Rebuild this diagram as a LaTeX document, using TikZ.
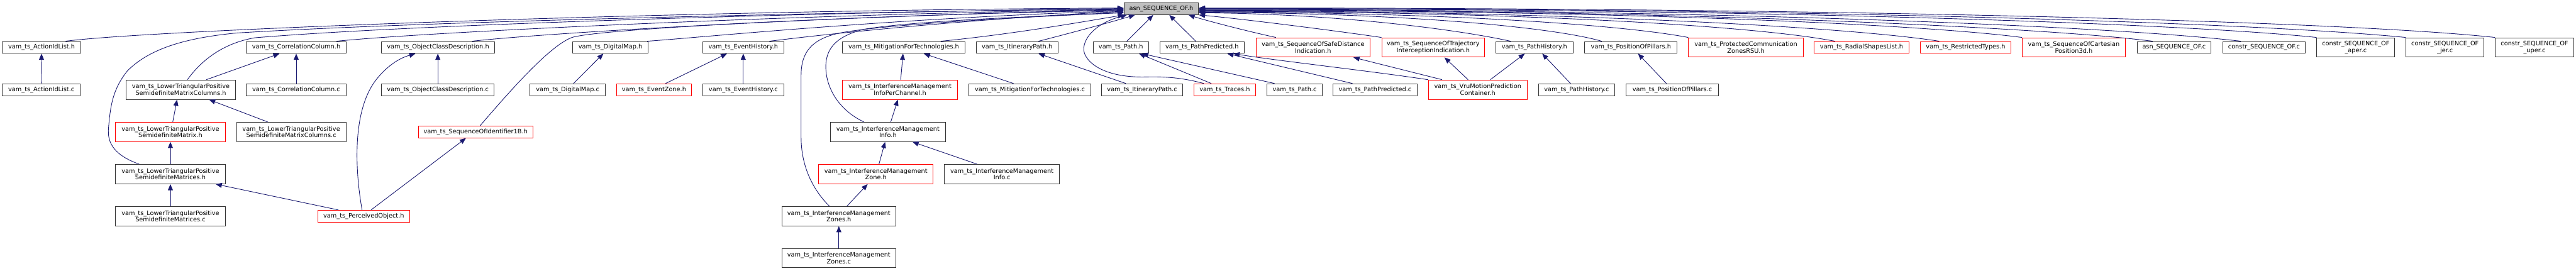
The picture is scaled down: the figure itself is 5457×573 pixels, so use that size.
\documentclass[tikz,border=0pt]{standalone}
\usepackage{fontspec}
\usetikzlibrary{arrows.meta}
\newfontfamily\dvfont{DejaVu Sans}
\definecolor{edgeblue}{HTML}{191970}
\definecolor{nodeblk}{HTML}{333333}
\definecolor{nodered}{HTML}{FF0000}
\definecolor{rootgray}{HTML}{BFBFBF}
\tikzset{
  fbox/.style={draw=nodeblk, line width=1.3pt, inner sep=0pt, minimum height=25pt, align=center, font=\dvfont\fontsize{13}{14}\selectfont, fill=white},
  rbox/.style={fbox, draw=nodered},
  rootbox/.style={fbox, fill=rootgray},
  two/.style={minimum height=41pt},
  bw/.style={minimum width=#1pt},
  dep/.style={draw=edgeblue, line width=1.2pt, -{Triangle[length=13pt,width=10.5pt]}}
}
\begin{document}
\begin{tikzpicture}[x=1pt,y=-1pt]
\useasboundingbox (0,0) rectangle (5457,573);
\fill[white] (0,0) rectangle (5457,573);
% ---------- nodes ----------
\node[rootbox,bw=158] (root) at (2460,18.5) {asn\_SEQUENCE\_OF.h};
\node[fbox,bw=166] (ail) at (88,100.5) {vam\_ts\_ActionIdList.h};
\node[fbox,bw=165] (ailc) at (87.5,190) {vam\_ts\_ActionIdList.c};
\node[fbox,two,bw=232] (lcolh) at (383,190) {vam\_ts\_LowerTriangularPositive\\SemidefiniteMatrixColumns.h};
\node[rbox,two,bw=232] (lmath) at (361,279.5) {vam\_ts\_LowerTriangularPositive\\SemidefiniteMatrix.h};
\node[fbox,two,bw=232] (lmsh) at (361,369) {vam\_ts\_LowerTriangularPositive\\SemidefiniteMatrices.h};
\node[fbox,two,bw=232] (lmsc) at (361,458) {vam\_ts\_LowerTriangularPositive\\SemidefiniteMatrices.c};
\node[fbox,two,bw=232] (lcolc) at (617,279.5) {vam\_ts\_LowerTriangularPositive\\SemidefiniteMatrixColumns.c};
\node[fbox,bw=211] (corh) at (627.5,100.5) {vam\_ts\_CorrelationColumn.h};
\node[fbox,bw=211] (corc) at (627.5,190) {vam\_ts\_CorrelationColumn.c};
\node[fbox,bw=240] (objh) at (928,100.5) {vam\_ts\_ObjectClassDescription.h};
\node[fbox,bw=239] (objc) at (927.5,190) {vam\_ts\_ObjectClassDescription.c};
\node[rbox,bw=195] (perc) at (770.5,458) {vam\_ts\_PerceivedObject.h};
\node[rbox,bw=243] (sid) at (1007.5,279.5) {vam\_ts\_SequenceOfIdentifier1B.h};
\node[fbox,bw=160] (dmh) at (1293,100.5) {vam\_ts\_DigitalMap.h};
\node[fbox,bw=159] (dmc) at (1202.5,190) {vam\_ts\_DigitalMap.c};
\node[rbox,bw=159] (ezh) at (1385.5,190) {vam\_ts\_EventZone.h};
\node[fbox,bw=171] (ehh) at (1574.5,100.5) {vam\_ts\_EventHistory.h};
\node[fbox,bw=171] (ehc) at (1574.5,190) {vam\_ts\_EventHistory.c};
\node[fbox,bw=259] (mith) at (1914.5,100.5) {vam\_ts\_MitigationForTechnologies.h};
\node[rbox,two,bw=243] (ipc) at (1906.5,190) {vam\_ts\_InterferenceManagement\\InfoPerChannel.h};
\node[fbox,two,bw=244] (imih) at (1881,279.5) {vam\_ts\_InterferenceManagement\\Info.h};
\node[rbox,two,bw=243] (imzh) at (1855.5,369) {vam\_ts\_InterferenceManagement\\Zone.h};
\node[fbox,two,bw=243] (imic) at (2122.5,369) {vam\_ts\_InterferenceManagement\\Info.c};
\node[fbox,two,bw=242] (imzsh) at (1777,458) {vam\_ts\_InterferenceManagement\\Zones.h};
\node[fbox,two,bw=242] (imzsc) at (1777,547) {vam\_ts\_InterferenceManagement\\Zones.c};
\node[fbox,bw=259] (mitc) at (2181.5,190) {vam\_ts\_MitigationForTechnologies.c};
\node[fbox,bw=173] (ith) at (2154.5,100.5) {vam\_ts\_ItineraryPath.h};
\node[fbox,bw=171] (itc) at (2419.5,190) {vam\_ts\_ItineraryPath.c};
\node[fbox,bw=117] (pth) at (2374.5,100.5) {vam\_ts\_Path.h};
\node[fbox,bw=117] (ptc) at (2742.5,190) {vam\_ts\_Path.c};
\node[rbox,bw=131] (trh) at (2594.5,190) {vam\_ts\_Traces.h};
\node[fbox,bw=179] (pph) at (2546.5,100.5) {vam\_ts\_PathPredicted.h};
\node[fbox,bw=178] (ppc) at (2913,190) {vam\_ts\_PathPredicted.c};
\node[rbox,two,bw=241] (ssd) at (2781.5,100.5) {vam\_ts\_SequenceOfSafeDistance\\Indication.h};
\node[rbox,two,bw=218] (sti) at (3036,100.5) {vam\_ts\_SequenceOfTrajectory\\InterceptionIndication.h};
\node[rbox,two,bw=209] (vru) at (3130.5,190) {vam\_ts\_VruMotionPrediction\\Container.h};
\node[fbox,bw=163] (phh) at (3250.5,100.5) {vam\_ts\_PathHistory.h};
\node[fbox,bw=162] (phc) at (3340,190) {vam\_ts\_PathHistory.c};
\node[fbox,bw=196] (poph) at (3455,100.5) {vam\_ts\_PositionOfPillars.h};
\node[fbox,bw=195] (popc) at (3542.5,190) {vam\_ts\_PositionOfPillars.c};
\node[rbox,two,bw=243] (pcz) at (3698.5,100.5) {vam\_ts\_ProtectedCommunication\\ZonesRSU.h};
\node[rbox,bw=201] (rsl) at (3943.5,100.5) {vam\_ts\_RadialShapesList.h};
\node[rbox,bw=192] (rty) at (4164,100.5) {vam\_ts\_RestrictedTypes.h};
\node[rbox,two,bw=218] (cart) at (4393,100.5) {vam\_ts\_SequenceOfCartesian\\Position3d.h};
\node[fbox,bw=157] (asnc) at (4605.5,100.5) {asn\_SEQUENCE\_OF.c};
\node[fbox,bw=174] (csc) at (4796,100.5) {constr\_SEQUENCE\_OF.c};
\node[fbox,two,bw=165] (cap) at (4990.5,100.5) {constr\_SEQUENCE\_OF\\\_aper.c};
\node[fbox,two,bw=165] (cjer) at (5179.5,100.5) {constr\_SEQUENCE\_OF\\\_jer.c};
\node[fbox,two,bw=166] (cuper) at (5369,100.5) {constr\_SEQUENCE\_OF\\\_uper.c};
% ---------- edges to root from the left ----------
\draw[dep] ([xshift=51pt]ail.north) .. controls (300,65) and (1400,22) .. ([yshift=1.5pt]root.west);
\draw[dep] ([xshift=14pt]lcolh.north) .. controls (425,130) and (470,92) .. (540,80) .. controls (900,50) and (1800,25) .. ([yshift=0.5pt]root.west);
\draw[dep] ([xshift=-66pt]lmsh.north) .. controls (245,330) and (226,305) .. (230,270) .. controls (234,225) and (238,190) .. (270,150) .. controls (320,100) and (400,80) .. (500,70) .. controls (900,45) and (1800,25) .. ([yshift=-0.5pt]root.west);
\draw[dep] ([xshift=85.5pt]corh.north) .. controls (900,68) and (1700,30) .. ([yshift=-1.5pt]root.west);
\draw[dep] ([xshift=72pt]objh.north) .. controls (1150,70) and (1800,32) .. ([yshift=-2.5pt]root.west);
\draw[dep] ([xshift=9.5pt]sid.north) .. controls (1070,205) and (1160,100) .. (1210,80) .. controls (1260,60) and (1900,30) .. ([yshift=-3.5pt]root.west);
\draw[dep] ([xshift=78pt]dmh.north) .. controls (1500,78) and (1900,38) .. ([yshift=-4.5pt]root.west);
\draw[dep] ([xshift=55.5pt]ehh.north) .. controls (1800,66) and (2100,38) .. ([yshift=-5.5pt]root.west);
\draw[dep] ([xshift=-20pt]imzsh.north) .. controls (1720,400) and (1697,350) .. (1697,290) -- (1697,160) .. controls (1697,110) and (1720,85) .. (1770,72) .. controls (1850,52) and (2200,35) .. ([yshift=-7.5pt]root.west);
\draw[dep] ([xshift=-51pt]imih.north) .. controls (1770,230) and (1745,175) .. (1750,130) .. controls (1755,95) and (1780,75) .. (1830,62) .. controls (1950,42) and (2250,33) .. ([yshift=-8.5pt]root.west);
\draw[dep] ([xshift=78.5pt]mith.north) .. controls (2150,72) and (2300,45) .. ([xshift=1pt]root.south west);
\draw[dep] ([xshift=45.5pt]ith.north) .. controls (2260,72) and (2350,48) .. ([xshift=24pt]root.south west);
\draw[dep] ([xshift=12.5pt]pth.north) -- ([xshift=-17pt]root.south);
\draw[dep] ([xshift=-13.5pt]pph.north) -- ([xshift=17pt]root.south);
\draw[dep] ([xshift=-44.5pt]trh.north) .. controls (2510,166) and (2475,162) .. (2430,163) .. controls (2330,166) and (2292,125) .. (2296,100) .. controls (2300,70) and (2335,45) .. ([xshift=7pt]root.south west);
% ---------- edges to root from the right ----------
\draw[dep] ([xshift=-78.5pt]ssd.north) .. controls (2650,68) and (2560,45) .. ([xshift=-22pt]root.south east);
\draw[dep] (sti.north west) .. controls (2850,68) and (2650,42) .. (root.south east);
\draw[dep] ([xshift=-50.5pt]phh.north) .. controls (3100,65) and (2850,30) .. ([yshift=-8.5pt]root.east);
\draw[dep] ([xshift=-62pt]poph.north) .. controls (3300,60) and (3000,28) .. ([yshift=-7.5pt]root.east);
\draw[dep] (pcz.north west) .. controls (3450,55) and (3100,27) .. ([yshift=-6.5pt]root.east);
\draw[dep] ([xshift=-56.5pt]rsl.north) .. controls (3750,60) and (3300,25) .. ([yshift=-5.5pt]root.east);
\draw[dep] ([xshift=-56pt]rty.north) .. controls (3950,62) and (3400,24) .. ([yshift=-4.5pt]root.east);
\draw[dep] (cart.north west) .. controls (4100,55) and (3500,22) .. ([yshift=-3.5pt]root.east);
\draw[dep] ([xshift=-45.5pt]asnc.north) .. controls (4350,60) and (3600,21) .. ([yshift=-2.5pt]root.east);
\draw[dep] ([xshift=-49pt]csc.north) .. controls (4500,58) and (3700,20) .. ([yshift=-1.5pt]root.east);
\draw[dep] (cap.north west) .. controls (4650,52) and (3800,18) .. ([yshift=-0.5pt]root.east);
\draw[dep] (cjer.north west) .. controls (4800,50) and (3900,17) .. ([yshift=0.5pt]root.east);
\draw[dep] (cuper.north west) .. controls (5000,48) and (4000,16) .. ([yshift=1.5pt]root.east);
% ---------- other edges ----------
\draw[dep] (ailc.north) -- (ail.south);
\draw[dep] (corc.north) -- (corh.south);
\draw[dep] (objc.north) -- (objc.north |- objh.south);
\draw[dep] ([xshift=12.5pt]dmc.north) -- ([xshift=-15pt]dmh.south);
\draw[dep] ([xshift=24.5pt]ezh.north) -- ([xshift=-34.5pt]ehh.south);
\draw[dep] (ehc.north) -- (ehh.south);
\draw[dep] ([xshift=54pt]lcolh.north) -- ([xshift=-35.5pt]corh.south);
\draw[dep] ([xshift=-50pt]lcolc.north) -- ([xshift=60pt]lcolh.south);
\draw[dep] ([xshift=5pt]lmath.north) -- ([xshift=-8pt]lcolh.south);
\draw[dep] (lmsh.north) -- (lmath.south);
\draw[dep] (lmsc.north) -- (lmsh.south);
\draw[dep] ([xshift=-53.5pt]perc.north) -- ([xshift=96pt]lmsh.south);
\draw[dep] ([xshift=-3.5pt]perc.north) .. controls (752,360) and (745,230) .. (800,165) .. controls (825,135) and (850,122) .. ([xshift=-48pt]objh.south);
\draw[dep] ([xshift=15.5pt]perc.north) -- ([xshift=-20.5pt]sid.south);
\draw[dep] ([xshift=-34.5pt]mitc.north) -- ([xshift=42.5pt]mith.south);
\draw[dep] ([xshift=1.5pt]ipc.north) -- ([xshift=-1.5pt]mith.south);
\draw[dep] ([xshift=6pt]imih.north) -- ([xshift=-4.5pt]ipc.south);
\draw[dep] ([xshift=6.5pt]imzh.north) -- ([xshift=-6pt]imih.south);
\draw[dep] ([xshift=-52.5pt]imic.north) -- ([xshift=52pt]imih.south);
\draw[dep] ([xshift=17pt]imzsh.north) -- ([xshift=-17.5pt]imzh.south);
\draw[dep] (imzsc.north) -- (imzsh.south);
\draw[dep] ([xshift=-34.5pt]itc.north) -- ([xshift=45.5pt]ith.south);
\draw[dep] ([xshift=-28.5pt]trh.north) -- ([xshift=38.5pt]pth.south);
\draw[dep] ([xshift=-42.5pt]ptc.north) -- ([xshift=45pt]pth.south);
\draw[dep] ([xshift=-48pt]ppc.north) -- ([xshift=53.5pt]pph.south);
\draw[dep] (vru.north west) .. controls (2900,150) and (2700,128) .. ([xshift=66.5pt]pph.south);
\draw[dep] ([xshift=-75.5pt]vru.north) -- ([xshift=85.5pt]ssd.south);
\draw[dep] ([xshift=-20.5pt]vru.north) -- ([xshift=24pt]sti.south);
\draw[dep] ([xshift=26.5pt]vru.north) -- ([xshift=-20.5pt]phh.south);
\draw[dep] ([xshift=-13pt]phc.north) -- ([xshift=16.5pt]phh.south);
\draw[dep] ([xshift=-12.5pt]popc.north) -- ([xshift=15pt]poph.south);
\end{tikzpicture}
\end{document}
